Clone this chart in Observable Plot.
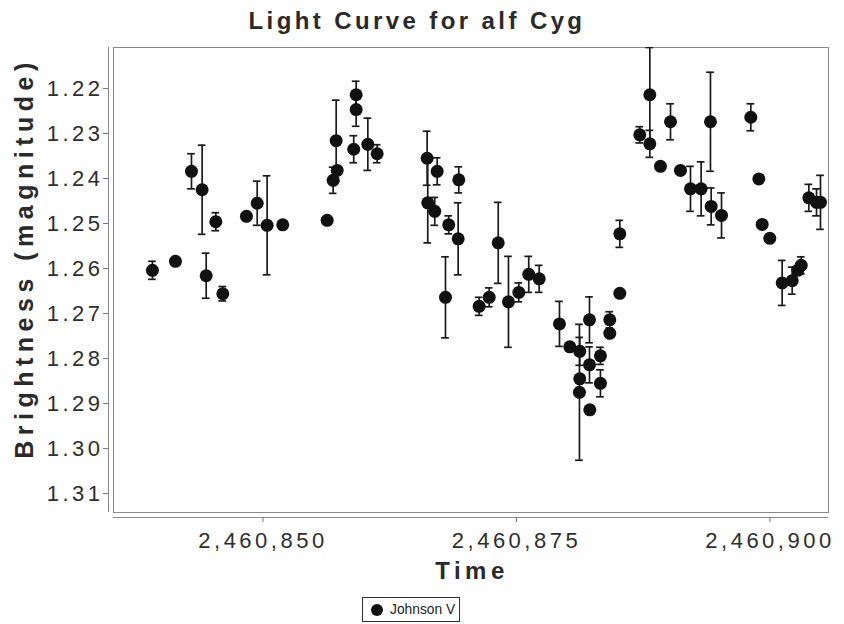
<!DOCTYPE html>
<html><head><meta charset="utf-8">
<script src="https://cdn.jsdelivr.net/npm/d3@7"></script>
<script src="https://cdn.jsdelivr.net/npm/@observablehq/plot@0.6"></script>
<style>
body{margin:0;background:#fff;}
#wrap{position:relative;width:844px;height:624px;overflow:hidden;font-family:"Liberation Sans",Arial,sans-serif;background:#fff;}
#wrap svg{position:absolute;left:0;top:0;}
.lbl{position:absolute;transform:translate(-50%,-50%);white-space:nowrap;line-height:1;color:#2a2a2a;font-weight:bold;}
#title{left:417px;top:21px;font-size:24px;letter-spacing:3.4px;}
#ylab{left:24px;top:258px;font-size:25px;letter-spacing:5.5px;transform:translate(-50%,-50%) rotate(-90deg);}
#xlab{left:472px;top:571px;font-size:24px;letter-spacing:4.5px;}
#legend{position:absolute;left:362px;top:597px;width:98px;height:25px;border:1px solid #333;box-sizing:border-box;}
#legend .dot{position:absolute;left:8px;top:6px;width:12px;height:12px;border-radius:50%;background:#111;}
#legend .txt{position:absolute;left:27px;top:5px;font-size:13.8px;line-height:1;color:#222;white-space:nowrap;}
</style>
</head><body>
<div id="wrap">
  <div class="lbl" id="title">Light Curve for alf Cyg</div>
  <div class="lbl" id="ylab">Brightness (magnitude)</div>
  <div class="lbl" id="xlab">Time</div>
  <div id="legend"><div class="dot"></div><div class="txt" id="legtxt"></div></div>
</div>
<script>
// Julian Date of each observation
const time = [
  2460839.10, 2460841.37, 2460842.95, 2460844.00, 2460844.40, 2460845.35, 2460846.04, 2460848.37,
  2460849.43, 2460850.41, 2460851.95, 2460856.33, 2460856.92, 2460857.32, 2460857.22, 2460859.19,
  2460859.19, 2460858.95, 2460860.34, 2460861.26, 2460866.19, 2460866.25, 2460867.18, 2460866.94,
  2460868.32, 2460869.31, 2460869.25, 2460868.00, 2460871.32, 2460872.31, 2460873.20, 2460874.21,
  2460875.23, 2460876.21, 2460877.24, 2460879.24, 2460880.26, 2460881.24, 2460881.24, 2460881.21,
  2460882.20, 2460882.20, 2460882.23, 2460883.28, 2460883.28, 2460884.20, 2460884.20, 2460885.19,
  2460885.19, 2460887.16, 2460888.15, 2460888.15, 2460889.20, 2460890.19, 2460891.17, 2460892.16,
  2460893.21, 2460894.13, 2460894.20, 2460895.22, 2460898.11, 2460898.90, 2460899.23, 2460899.98,
  2460901.20, 2460902.19, 2460902.74, 2460903.08, 2460903.83, 2460904.59, 2460904.98
];
// Johnson V magnitude
const magnitude = [
  1.2604, 1.2584, 1.2384, 1.2425, 1.2616, 1.2496, 1.2656, 1.2484,
  1.2455, 1.2504, 1.2503, 1.2493, 1.2404, 1.2382, 1.2316, 1.2214,
  1.2247, 1.2335, 1.2324, 1.2345, 1.2355, 1.2454, 1.2384, 1.2473,
  1.2503, 1.2403, 1.2534, 1.2664, 1.2684, 1.2664, 1.2543, 1.2674,
  1.2653, 1.2613, 1.2623, 1.2723, 1.2774, 1.2784, 1.2845, 1.2875,
  1.2714, 1.2814, 1.2914, 1.2794, 1.2855, 1.2714, 1.2744, 1.2523,
  1.2655, 1.2303, 1.2214, 1.2323, 1.2373, 1.2274, 1.2382, 1.2423,
  1.2423, 1.2274, 1.2462, 1.2482, 1.2264, 1.2401, 1.2502, 1.2533,
  1.2632, 1.2627, 1.2604, 1.2593, 1.2443, 1.2453, 1.2453
];
// magnitude uncertainty (0 = no error bar drawn)
const uncertainty = [
  0.0020, 0, 0.0039, 0.0099, 0.0050, 0.0020, 0.0016, 0,
  0.0049, 0.0110, 0, 0, 0.0029, 0, 0.0090, 0.0030,
  0.0037, 0.0030, 0.0058, 0.0020, 0.0060, 0.0089, 0.0030, 0.0031,
  0.0020, 0.0029, 0.0080, 0.0090, 0.0020, 0.0021, 0.0090, 0.0101,
  0.0021, 0.0040, 0.0030, 0.0050, 0, 0.0031, 0, 0.0151,
  0.0051, 0.0040, 0, 0.0019, 0.0030, 0.0018, 0, 0.0030,
  0, 0.0018, 0.0105, 0.0030, 0, 0.0040, 0, 0.0050,
  0.0060, 0.0110, 0.0041, 0.0050, 0.0030, 0, 0, 0,
  0.0050, 0.0030, 0, 0.0019, 0.0030, 0.0030, 0.0060
];
const xTicks = [2460850, 2460875, 2460900];
const yTicks = [1.22, 1.23, 1.24, 1.25, 1.26, 1.27, 1.28, 1.29, 1.30, 1.31];
const xDomain = [2460835.26, 2460905.77];
const yDomain = [1.3142, 1.2109];
const seriesName = "Johnson V";
const titleText = "Light Curve for alf Cyg";
const xLabel = "Time";
const yLabel = "Brightness (magnitude)";

document.getElementById("legtxt").textContent = seriesName;
document.getElementById("title").textContent = titleText;
document.getElementById("xlab").textContent = xLabel;
document.getElementById("ylab").textContent = yLabel;

const rows = time.map((t, i) => ({t, m: magnitude[i], e: uncertainty[i]}));
const errRows = rows.filter(d => d.e > 0);
const capHalf = 0.38;

const chart = Plot.plot({
  width: 844, height: 624,
  marginTop: 47, marginRight: 16, marginBottom: 112, marginLeft: 113,
  style: {fontFamily: "Liberation Sans, Arial, sans-serif", fontSize: "22px", letterSpacing: "3.5px", color: "#2e2e2e", background: "transparent", overflow: "visible"},
  x: {domain: xDomain, ticks: xTicks, tickFormat: d3.format(",")},
  y: {domain: yDomain, ticks: yTicks, tickFormat: d3.format(".2f")},
  marks: [
    Plot.frame({stroke: "#8a8a8a"}),
    Plot.ruleX([xDomain[0]], {dx: -5, stroke: "#8a8a8a"}),
    Plot.ruleY([yDomain[0]], {dy: 5, stroke: "#8a8a8a"}),
    Plot.axisY({ticks: yTicks, tickFormat: d3.format(".2f"), dx: -5, tickSize: 5, tickPadding: 0, label: null, stroke: "#777", fill: "#2e2e2e"}),
    Plot.axisX({ticks: xTicks, tickFormat: d3.format(","), dy: 5, tickSize: 5, tickPadding: 10, label: null, stroke: "#777", fill: "#2e2e2e"}),
    Plot.ruleX(errRows, {x: "t", y1: d => d.m - d.e, y2: d => d.m + d.e, stroke: "#1a1a1a", strokeWidth: 1.7, clip: true}),
    Plot.ruleY(errRows, {y: d => d.m - d.e, x1: d => d.t - capHalf, x2: d => d.t + capHalf, stroke: "#1a1a1a", strokeWidth: 1.7, clip: true}),
    Plot.ruleY(errRows, {y: d => d.m + d.e, x1: d => d.t - capHalf, x2: d => d.t + capHalf, stroke: "#1a1a1a", strokeWidth: 1.7, clip: true}),
    Plot.dot(rows, {x: "t", y: "m", r: 6.5, fill: "#111", stroke: "none"})
  ]
});
document.getElementById("wrap").prepend(chart);
</script>
</body></html>
